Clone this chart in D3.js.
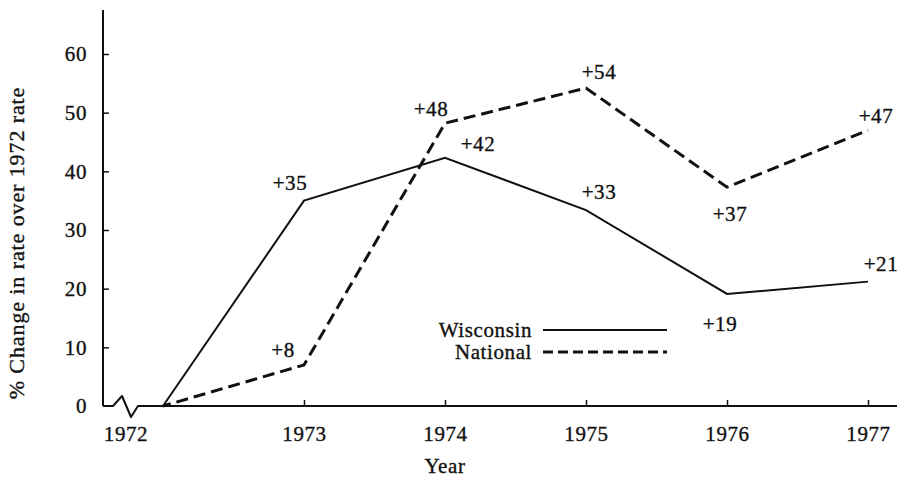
<!DOCTYPE html>
<html lang="en">
<head>
<meta charset="UTF-8">
<title>% Change in rate over 1972 rate</title>
<script src="https://cdn.jsdelivr.net/npm/d3@7"></script>
<style>
  body { margin: 0; background: #fff; }
  text {
    font-family: "Liberation Serif", "Times New Roman", serif;
    fill: #111; stroke: #111; stroke-width: 0.35px;
    letter-spacing: 0.6px;
  }
</style>
</head>
<body>
<div id="container"></div>
<script>
// data
const years = [1972, 1973, 1974, 1975, 1976, 1977];
const wisconsin = [0, 35, 42.3, 33.4, 19.1, 21.2];
const national = [0, 7, 48.2, 54.2, 37.3, 47];
const wisconsinLabels = [null, "+35", "+42", "+33", "+19", "+21"];
const nationalLabels = [null, "+8", "+48", "+54", "+37", "+47"];
const yTicks = [0, 10, 20, 30, 40, 50, 60];
const xTicks = [1973, 1974, 1975, 1976, 1977];

const width = 900;
const height = 479;
const axisX = 103;      // where the y axis sits
const axisY = 406;      // where the x axis sits
const fs = 21;

const x = d3.scaleLinear()
    .domain([1972, 1977])
    .range([163, 868]);

const y = d3.scaleLinear()
    .domain([0, 60])
    .range([axisY, 54]);

const svg = d3.create("svg")
    .attr("width", width)
    .attr("height", height);

// y axis line
svg.append("line")
    .attr("x1", axisX).attr("x2", axisX)
    .attr("y1", 10).attr("y2", axisY)
    .attr("stroke", "#111").attr("stroke-width", 2);

// x axis with break near the origin
const brk = d3.path();
brk.moveTo(axisX, axisY);
brk.lineTo(axisX + 10, axisY);
brk.lineTo(axisX + 19, axisY - 10);
brk.lineTo(axisX + 28, axisY + 11);
brk.lineTo(axisX + 35, axisY);
brk.lineTo(897, axisY);
svg.append("path")
    .attr("d", brk.toString())
    .attr("fill", "none")
    .attr("stroke", "#111")
    .attr("stroke-width", 2)
    .attr("stroke-linejoin", "round");

const yAxis = svg.append("g")
    .attr("transform", `translate(${axisX},0)`)
    .call(d3.axisLeft(y).tickValues(yTicks).tickSize(-6).tickSizeOuter(0).tickPadding(16));
yAxis.select(".domain").remove();
yAxis.selectAll(".tick line").attr("stroke", "#111").attr("stroke-width", 1.5);
yAxis.selectAll(".tick line").filter(d => d === 0).remove();
yAxis.selectAll("text").attr("font-size", fs).style("font-family", "Liberation Serif");

const xAxis = svg.append("g")
    .attr("transform", `translate(0,${axisY})`)
    .call(d3.axisBottom(x).tickValues(xTicks).tickFormat(d3.format("d")).tickSize(-6).tickSizeOuter(0).tickPadding(20));
xAxis.select(".domain").remove();
xAxis.selectAll(".tick line").attr("stroke", "#111").attr("stroke-width", 1.5);
xAxis.selectAll("text").attr("font-size", fs).style("font-family", "Liberation Serif");

// 1972 label sits under the break
svg.append("text")
    .attr("x", x(1972) - 37)
    .attr("y", axisY + 20)
    .attr("dy", "0.71em")
    .attr("text-anchor", "middle")
    .attr("font-size", fs)
    .text(years[0]);

// axis titles
svg.append("text")
    .attr("x", 445).attr("y", 473)
    .attr("text-anchor", "middle")
    .attr("font-size", fs)
    .text("Year");

svg.append("text")
    .attr("transform", "translate(24,243) rotate(-90)")
    .attr("text-anchor", "middle")
    .attr("font-size", 22)
    .style("letter-spacing", "0.9px")
    .text("% Change in rate over 1972 rate");

// lines
const line = d3.line().x((d, i) => x(years[i])).y(d => y(d));

svg.append("path")
    .datum(wisconsin)
    .attr("d", line)
    .attr("fill", "none")
    .attr("stroke", "#111")
    .attr("stroke-width", 2);

svg.append("path")
    .datum(national)
    .attr("d", line)
    .attr("fill", "none")
    .attr("stroke", "#111")
    .attr("stroke-width", 3)
    .attr("stroke-dasharray", "12,6")
    .attr("stroke-dashoffset", -14);

// point labels, offsets picked by eye
const wOff = [null, [-14, -18], [33, -14], [13, -18], [-7, 30], [13, -18]];
const nOff = [null, [-21, -15], [-14, -15], [13, -16], [3, 26], [8, -15]];

function labelData(values, labels, offs) {
  return values.map((v, i) => ({ year: years[i], v, text: labels[i], off: offs[i] }))
    .filter(d => d.text);
}

const allLabels = labelData(wisconsin, wisconsinLabels, wOff)
  .concat(labelData(national, nationalLabels, nOff));

svg.append("g").selectAll("text")
    .data(allLabels)
    .join("text")
    .attr("x", d => x(d.year) + d.off[0])
    .attr("y", d => y(d.v) + d.off[1])
    .attr("dy", "0.35em")
    .attr("text-anchor", "middle")
    .attr("font-size", fs)
    .text(d => d.text);

// legend
const legend = svg.append("g").attr("transform", "translate(532,330)");
const legendItems = [
  { name: "Wisconsin", dash: null, w: 2 },
  { name: "National", dash: "10,5", w: 3 }
];
legendItems.forEach((item, i) => {
  const g = legend.append("g").attr("transform", `translate(0,${i * 22})`);
  g.append("text")
    .attr("text-anchor", "end")
    .attr("dy", "0.32em")
    .attr("font-size", fs)
    .text(item.name);
  g.append("line")
    .attr("x1", 11).attr("x2", 135)
    .attr("stroke", "#111")
    .attr("stroke-width", item.w)
    .attr("stroke-dasharray", item.dash);
});

document.getElementById("container").append(svg.node());
</script>
</body>
</html>
